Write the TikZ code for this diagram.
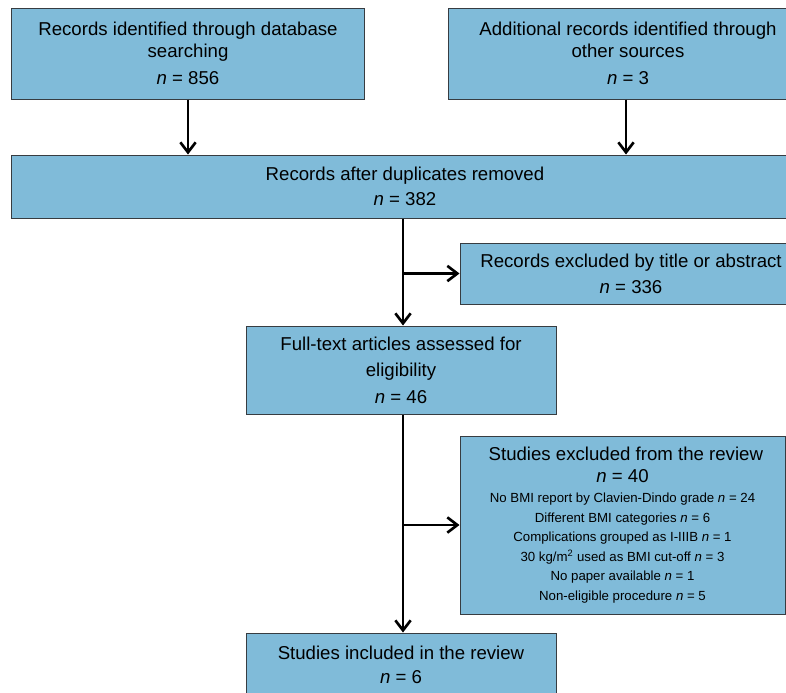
\documentclass[tikz,border=0pt]{standalone}
\usepackage{fontspec}
\setmainfont{Liberation Sans}
\usepackage{xcolor}
\usetikzlibrary{arrows.meta}
\definecolor{boxblue}{RGB}{128,187,217}
\definecolor{boxline}{RGB}{55,60,65}

\begin{document}
\begin{tikzpicture}[x=0.3mm, y=-0.3mm,
		box/.style={draw=boxline, line width=0.3mm, fill=boxblue, rectangle, align=center, inner sep=0pt, font=\fontsize{15.9}{19}\selectfont},
		flow/.style={line width=0.8mm, -{Straight Barb[length=3mm, width=4.6mm, line width=0.8mm]}}]
		\useasboundingbox (0,0) rectangle (786,692);
		\clip (0,0) rectangle (786,692);
		\newcommand{\nn}{\textit{n}}
		\newcommand{\smalltxt}{\fontsize{11.3}{16.6}\selectfont}
		
		\node[box, minimum width=105.6mm, minimum height=27.3mm] (A) at (188,53.5) {Records identified through database\\ searching\\[4pt] \nn{} = 856};
		\node[box, minimum width=108mm, minimum height=27.3mm] (B) at (628,53.5) {Additional records identified through\\ other sources\\[4pt] \nn{} = 3};
		\node[box, minimum width=235.8mm, minimum height=18.9mm] (C) at (405,186.5) {Records after duplicates removed\\[2pt] \nn{} = 382};
		\node[box, minimum width=102.6mm, minimum height=18.3mm] (D) at (631,273.5) {Records excluded by title or abstract\\[3pt] \nn{} = 336};
		\node[box, minimum width=93mm, minimum height=26.4mm] (E) at (401,370) {Full-text articles assessed for\\[3pt] eligibility\\[4pt] \nn{} = 46};
		\node[box, minimum width=97.5mm, minimum height=53.4mm] (F) at (622.5,525) {\hspace*{2mm}Studies excluded from the review\\ \nn{} = 40\\[-2pt]
			{\smalltxt No BMI report by Clavien-Dindo grade \nn{} = 24}\\[-2.4pt]
			{\smalltxt Different BMI categories \nn{} = 6}\\[-2.4pt]
			{\smalltxt Complications grouped as I-IIIB \nn{} = 1}\\[-2.4pt]
			{\smalltxt 30 kg/m\textsuperscript{2} used as BMI cut-off \nn{} = 3}\\[-2.4pt]
			{\smalltxt No paper available \nn{} = 1}\\[-2.4pt]
			{\smalltxt Non-eligible procedure \nn{} = 5}};
		\node[box, minimum width=93mm, minimum height=19.2mm] (G) at (401,665) {Studies included in the review\\[1pt] \nn{} = 6};
		
		\draw[flow] (A.south) -- (A.south |- C.north);
		\draw[flow] ([xshift=-0.6mm]B.south) -- ([xshift=-0.6mm]B.south |- C.north);
		\draw[flow] ([xshift=0.6mm]E.north |- C.south) -- ([xshift=0.6mm]E.north);
		\draw[flow] ([xshift=0.6mm]E.north |- D.west) -- (D.west);
		\draw[flow] ([xshift=0.6mm]E.south) -- ([xshift=0.6mm]G.north);
		\draw[flow] ([xshift=0.6mm]E.south |- F.west) -- (F.west);
	\end{tikzpicture}
\end{document}
